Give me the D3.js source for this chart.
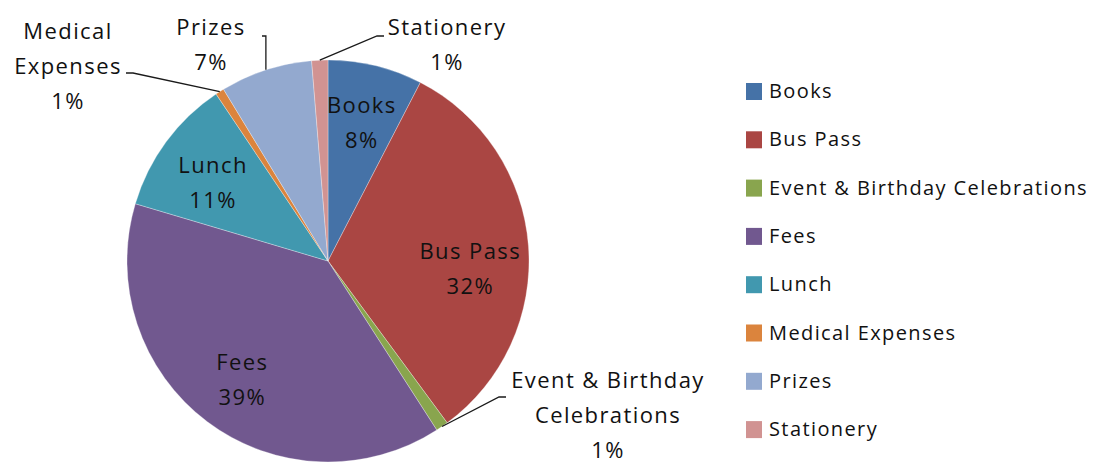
<!DOCTYPE html>
<html>
<head>
<meta charset="utf-8">
<script src="https://cdn.jsdelivr.net/npm/d3@7"></script>
<style>
  body { margin: 0; background: #fff; }
  text { font-family: "Open Sans", sans-serif; fill: #111; }
</style>
</head>
<body>
<svg id="chart" width="1094" height="464"></svg>
<script>
// categories and their shares (percent)
const categories = ["Books", "Bus Pass", "Event & Birthday Celebrations", "Fees", "Lunch", "Medical Expenses", "Prizes", "Stationery"];
const shares = [7.6, 32.3, 1.0, 38.7, 11.0, 0.7, 7.4, 1.3];
const colors = ["#4572A7", "#AA4643", "#89A54E", "#71588F", "#4198AF", "#DB843D", "#93A9CF", "#D19392"];

// slices too thin for an inside label get an outside label with a leader line
const outsideLabels = {
    "Medical Expenses": { lines: ["Medical", "Expenses"], x: 68, y: 32, anchor: [126, 73], side: "right" },
    "Prizes": { lines: ["Prizes"], x: 211, y: 28, anchor: [262, 36], side: "right" },
    "Stationery": { lines: ["Stationery"], x: 447, y: 28, anchor: [384, 36], side: "left" },
    "Event & Birthday Celebrations": { lines: ["Event & Birthday", "Celebrations"], x: 608, y: 381, anchor: [506, 397], side: "left" }
};
// small nudges of inside labels, as placed in the original
const insideNudge = { "Bus Pass": 19, "Lunch": 6, "Fees": 4 };

const svg = d3.select("#chart");
const cx = 328, cy = 261, radius = 201;
const lineH = 35;
const labelFont = 22, labelSpacing = 1.4;

const data = categories.map((c, i) => ({ name: c, value: shares[i], color: colors[i] }));
const total = d3.sum(shares);

const pie = d3.pie().sort(null).value(d => d.value);
const arcs = pie(data);
const arc = d3.arc().innerRadius(0).outerRadius(radius);
const labelArc = d3.arc().innerRadius(radius * 0.71).outerRadius(radius * 0.71);
const edgeArc = d3.arc().innerRadius(radius).outerRadius(radius);

const g = svg.append("g").attr("transform", `translate(${cx},${cy})`);

g.selectAll("path.slice")
    .data(arcs)
    .enter()
    .append("path")
    .attr("class", "slice")
    .attr("d", arc)
    .attr("fill", d => d.data.color)
    .attr("stroke", "#ffffff")
    .attr("stroke-opacity", 0.5)
    .attr("stroke-width", 0.6);

const pct = d => Math.round(d.data.value / total * 100) + "%";

// inside labels
arcs.filter(d => !(d.data.name in outsideLabels)).forEach(d => {
    const [x, y0] = labelArc.centroid(d);
    const y = y0 + (insideNudge[d.data.name] || 0);
    const t = g.append("text")
        .attr("text-anchor", "middle")
        .attr("font-size", labelFont)
        .attr("letter-spacing", labelSpacing);
    const lines = [d.data.name, pct(d)];
    lines.forEach((l, i) => {
        t.append("tspan")
            .attr("x", x)
            .attr("y", y + (i - (lines.length - 1) / 2) * lineH + 8)
            .text(l);
    });
});

// outside labels with leader lines
arcs.filter(d => d.data.name in outsideLabels).forEach(d => {
    const o = outsideLabels[d.data.name];
    const lines = o.lines.concat([pct(d)]);
    const t = svg.append("text")
        .attr("text-anchor", "middle")
        .attr("font-size", labelFont)
        .attr("letter-spacing", labelSpacing);
    lines.forEach((l, i) => {
        t.append("tspan")
            .attr("x", o.x)
            .attr("y", o.y + i * lineH + 7)
            .text(l);
    });

    const [ex, ey] = edgeArc.centroid(d);
    const end = [cx + ex, cy + ey];
    const hx = o.side === "right" ? o.anchor[0] + 7 : o.anchor[0] - 7;
    let pts;
    if (d.data.name === "Prizes") {
        pts = [o.anchor, [end[0], o.anchor[1]], end];
    } else {
        pts = [o.anchor, [hx, o.anchor[1]], end];
    }
    svg.append("path")
        .attr("d", d3.line()(pts))
        .attr("fill", "none")
        .attr("stroke", "#1a1a1a")
        .attr("stroke-width", 1.3);
});

// legend
const legend = svg.append("g").attr("transform", "translate(746, 83)");
const item = legend.selectAll("g.item")
    .data(data)
    .enter()
    .append("g")
    .attr("class", "item")
    .attr("transform", (d, i) => `translate(0, ${i * 48.3})`);

item.append("rect")
    .attr("width", 16)
    .attr("height", 17)
    .attr("fill", d => d.color);

item.append("text")
    .attr("x", 23)
    .attr("y", 15)
    .attr("font-size", 20)
    .attr("letter-spacing", 1.4)
    .text(d => d.name);
</script>
</body>
</html>
